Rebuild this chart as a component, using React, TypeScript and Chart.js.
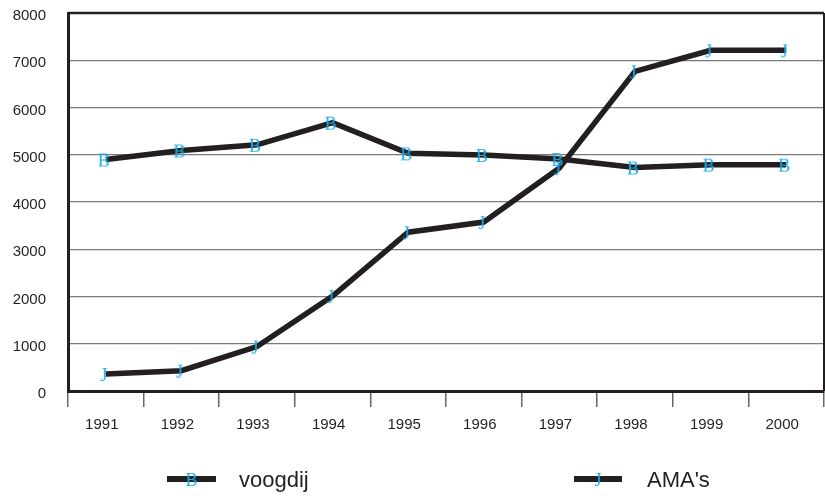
import React, { useEffect, useRef } from "react";
import { Chart, registerables } from "chart.js";

Chart.register(...registerables);

const years = ["1991", "1992", "1993", "1994", "1995", "1996", "1997", "1998", "1999", "2000"];
const voogdij = [4900, 5090, 5210, 5680, 5030, 4995, 4910, 4730, 4790, 4790];
const amas = [360, 430, 940, 2010, 3360, 3575, 4720, 6765, 7210, 7210];
const seriesNames = ["voogdij", "AMA's"];
const seriesLetters = ["B", "J"];

const INK = "#231f20";
const CYAN = "#18ade9";

function letterCanvas(letter: string): HTMLCanvasElement {
  const c = document.createElement("canvas");
  c.width = 24;
  c.height = 24;
  const ctx = c.getContext("2d")!;
  ctx.fillStyle = CYAN;
  ctx.font = "18px 'Liberation Serif', 'DejaVu Serif', serif";
  ctx.textAlign = "center";
  ctx.textBaseline = "middle";
  ctx.fillText(letter, 10, 14);
  return c;
}

export default function App() {
  const ref = useRef<HTMLCanvasElement | null>(null);

  useEffect(() => {
    document.body.style.margin = "0";
    const canvas = ref.current!;
    const markers = seriesLetters.map(letterCanvas);

    const framePlugin = {
      id: "frame",
      afterDraw(chart: any) {
        const { ctx, chartArea } = chart;
        ctx.save();
        ctx.strokeStyle = INK;
        ctx.lineWidth = 2.5;
        ctx.beginPath();
        ctx.moveTo(chartArea.left, chartArea.top);
        ctx.lineTo(chartArea.right, chartArea.top);
        ctx.stroke();
        ctx.lineWidth = 2;
        ctx.beginPath();
        ctx.moveTo(chartArea.right, chartArea.top);
        ctx.lineTo(chartArea.right, chartArea.bottom);
        ctx.stroke();

        // legend
        const items = [
          { x0: 167, x1: 216, tx: 239 },
          { x0: 574, x1: 622, tx: 647 },
        ];
        const ly = 479;
        items.forEach((it, i) => {
          ctx.strokeStyle = INK;
          ctx.lineWidth = 6;
          ctx.beginPath();
          ctx.moveTo(it.x0, ly);
          ctx.lineTo(it.x1, ly);
          ctx.stroke();
          const m = markers[i];
          ctx.drawImage(m, (it.x0 + it.x1) / 2 - 10, ly - 12);
          ctx.fillStyle = INK;
          ctx.font = "22px 'Liberation Sans', Arial, sans-serif";
          ctx.textAlign = "left";
          ctx.textBaseline = "alphabetic";
          ctx.fillText(seriesNames[i], it.tx, 487);
        });
        ctx.restore();
      },
    };

    const chart = new Chart(canvas, {
      type: "line",
      data: {
        labels: years,
        datasets: [
          {
            label: seriesNames[0],
            data: voogdij,
            borderColor: INK,
            borderWidth: 5.5,
            pointStyle: markers[0] as any,
            tension: 0,
          },
          {
            label: seriesNames[1],
            data: amas,
            borderColor: INK,
            borderWidth: 5.5,
            pointStyle: markers[1] as any,
            tension: 0,
          },
        ],
      },
      options: {
        responsive: false,
        animation: false,
        layout: { autoPadding: false, padding: { top: 13, right: 1, left: 0, bottom: 0 } },
        plugins: {
          legend: { display: false },
          tooltip: { enabled: false },
        },
        scales: {
          x: {
            type: "category",
            offset: true,
            grid: {
              offset: true,
              drawOnChartArea: false,
              drawTicks: true,
              tickLength: 16,
              color: "#666",
              lineWidth: 1.5,
            },
            border: { display: true, color: INK, width: 3 },
            ticks: {
              color: INK,
              font: { family: "'Liberation Sans', Arial, sans-serif", size: 15 },
              padding: 9,
              labelOffset: -4,
              maxRotation: 0,
              autoSkip: false,
            },
            afterFit(scale: any) {
              scale.height = 105;
              scale.paddingLeft = 0;
              scale.paddingRight = 0;
            },
          },
          y: {
            min: 0,
            max: 8000,
            grid: {
              drawTicks: false,
              color: (c: any) =>
                c.tick && (c.tick.value === 0 || c.tick.value === 8000) ? "rgba(0,0,0,0)" : "#7a7a7a",
              lineWidth: 1.3,
            },
            border: { display: true, color: INK, width: 3 },
            ticks: {
              stepSize: 1000,
              color: INK,
              font: { family: "'Liberation Sans', Arial, sans-serif", size: 15 },
              padding: 22,
              labelOffset: 3,
              callback: (v: any) => String(v),
            },
            afterFit(scale: any) {
              scale.width = 68;
              scale.paddingTop = 0;
              scale.paddingBottom = 0;
            },
          },
        },
      },
      plugins: [framePlugin],
    });

    return () => chart.destroy();
  }, []);

  return (
    <div style={{ position: "absolute", left: 0, top: 0, width: 825, height: 496 }}>
      <canvas ref={ref} width={825} height={496} style={{ width: 825, height: 496, display: "block" }} />
    </div>
  );
}
